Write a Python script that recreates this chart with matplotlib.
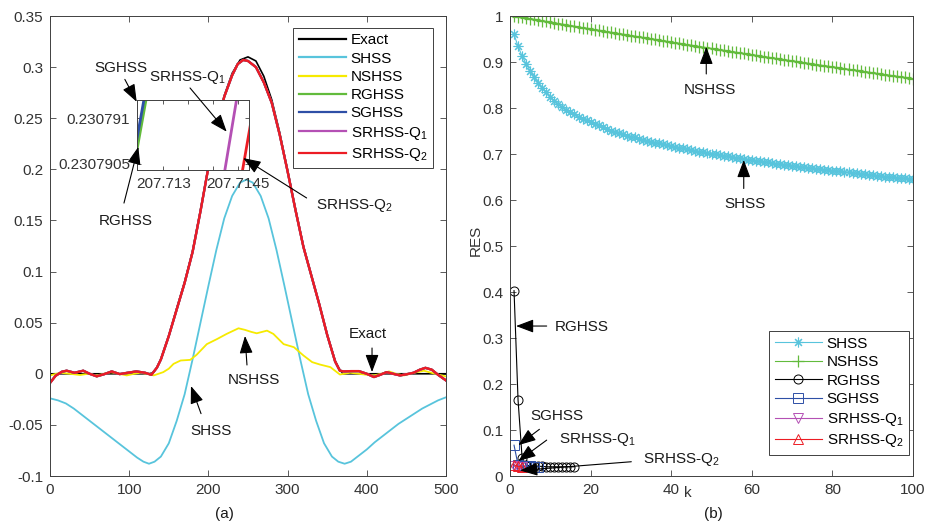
import matplotlib
matplotlib.use('Agg')
import matplotlib.pyplot as plt

plt.rcParams['font.family'] = ['Liberation Sans', 'DejaVu Sans']
plt.rcParams['mathtext.fontset'] = 'custom'
plt.rcParams['mathtext.rm'] = 'Liberation Sans'
plt.rcParams['mathtext.it'] = 'Liberation Sans:italic'

# ---------------- data: panel (a) ----------------
exact_x = [0, 125, 130, 135, 140, 150, 160, 170, 180, 190, 200, 210, 220, 230, 240, 250,
           260, 270, 280, 290, 300, 310, 320, 330, 340, 350, 360, 365, 370, 500]
exact_y = [0, 0, 0.001, 0.006, 0.014, 0.037, 0.064, 0.090, 0.120, 0.160, 0.203, 0.240,
           0.272, 0.294, 0.307, 0.310, 0.306, 0.291, 0.268, 0.236, 0.199, 0.161, 0.125,
           0.096, 0.068, 0.038, 0.013, 0.005, 0.0, 0.0]

shss_x = [0, 10, 20, 30, 40, 50, 60, 70, 80, 90, 100, 110, 118, 125, 132, 140, 150, 160,
          170, 180, 190, 200, 210, 220, 230, 240, 248, 256, 266, 276, 286, 296, 306, 316,
          326, 336, 346, 356, 364, 372, 380, 390, 400, 410, 420, 430, 440, 450, 460, 470,
          480, 490, 500]
shss_y = [-0.024, -0.026, -0.029, -0.034, -0.040, -0.046, -0.052, -0.058, -0.064, -0.070,
          -0.076, -0.082, -0.086, -0.088, -0.086, -0.081, -0.068, -0.046, -0.020, 0.014,
          0.050, 0.086, 0.121, 0.152, 0.174, 0.187, 0.190, 0.187, 0.174, 0.152, 0.121,
          0.086, 0.050, 0.014, -0.020, -0.046, -0.068, -0.081, -0.086, -0.088, -0.086,
          -0.080, -0.074, -0.067, -0.061, -0.055, -0.049, -0.044, -0.039, -0.034, -0.030,
          -0.026, -0.023]

nshss_x = [0, 13, 25, 38, 48, 59, 68, 76, 87, 97, 106, 114, 122, 131, 143, 150, 156, 165,
           177, 185, 198, 211, 223, 238, 246, 254, 261, 268, 274, 282, 295, 308, 320, 331,
           341, 354, 366, 379, 390, 400, 409, 418, 428, 437, 447, 460, 472, 486, 500]
nshss_y = [-0.0016, 0.001, 0.0, -0.0012, 0.0, -0.0016, 0.0, 0.0016, 0.0, -0.0016, 0.0,
           0.001, 0.0, -0.0016, 0.0016, 0.005, 0.0097, 0.013, 0.0136, 0.0185, 0.029, 0.034,
           0.039, 0.0445, 0.043, 0.041, 0.0396, 0.041, 0.0422, 0.039, 0.029, 0.026, 0.0179,
           0.0114, 0.009, 0.0065, -0.0007, 0.001, 0.0, -0.001, -0.0016, 0.0, 0.0023, 0.0,
           -0.0016, 0.001, 0.003, 0.0, -0.0026]

# RGHSS, SGHSS, SRHSS-Q1 and SRHSS-Q2 coincide at this scale
srhss_x = [0, 7, 15, 21, 31, 42, 50, 59, 68, 78, 88, 98, 109, 120, 128, 135, 140, 150, 160,
           170, 180, 190, 200, 210, 220, 230, 237, 244, 250, 260, 270, 280, 290, 300, 310,
           320, 330, 340, 350, 360, 366, 371, 380, 390, 400, 409, 417, 425, 433, 442, 450,
           459, 467, 474, 482, 490, 500]
srhss_y = [-0.009, -0.002, 0.002, 0.003, 0.001, 0.003, 0.0, -0.0025, -0.0005, 0.0023,
           -0.0003, 0.001, 0.0023, 0.001, -0.001, 0.006, 0.014, 0.037, 0.063, 0.089, 0.119,
           0.159, 0.202, 0.239, 0.271, 0.292, 0.303, 0.307, 0.306, 0.300, 0.285, 0.265,
           0.234, 0.198, 0.160, 0.124, 0.096, 0.068, 0.038, 0.012, 0.003, 0.0023, 0.0026,
           0.0026, 0.0, -0.0032, -0.001, 0.0016, 0.0, -0.0016, -0.0005, 0.001, 0.004,
           0.0058, 0.004, -0.001, -0.0065]

# zoomed inset values
in_rg_x = [207.7124, 207.7127]
in_rg_y = [0.23079043, 0.23079134]
in_sg_x = [207.7124, 207.7127]
in_sg_y = [0.23079055, 0.23079147]
in_q1_x = [207.7142, 207.7145]
in_q1_y = [0.23079031, 0.23079130]
in_q2_x = [207.71455, 207.7148]
in_q2_y = [0.23079030, 0.23079109]

# ---------------- data: panel (b) ----------------
k_all = list(range(1, 101))
shss_res = [0.960, 0.934, 0.913, 0.896, 0.881, 0.867, 0.855, 0.844, 0.834, 0.825,
            0.816, 0.809, 0.802, 0.796, 0.791, 0.786, 0.781, 0.777, 0.773, 0.769,
            0.765, 0.762, 0.758, 0.755, 0.751, 0.748, 0.745, 0.743, 0.740, 0.738,
            0.736, 0.733, 0.731, 0.729, 0.727, 0.725, 0.723, 0.721, 0.719, 0.717,
            0.715, 0.714, 0.712, 0.710, 0.709, 0.707, 0.705, 0.704, 0.702, 0.701,
            0.699, 0.698, 0.696, 0.695, 0.694, 0.692, 0.691, 0.689, 0.688, 0.687,
            0.685, 0.684, 0.683, 0.682, 0.680, 0.679, 0.678, 0.677, 0.676, 0.674,
            0.673, 0.672, 0.671, 0.670, 0.669, 0.668, 0.667, 0.666, 0.665, 0.664,
            0.663, 0.662, 0.661, 0.660, 0.659, 0.658, 0.657, 0.656, 0.655, 0.654,
            0.653, 0.652, 0.651, 0.650, 0.649, 0.648, 0.647, 0.647, 0.646, 0.645]
nshss_res = [1.0000, 0.9985, 0.9970, 0.9955, 0.9940, 0.9925, 0.9910, 0.9896, 0.9881, 0.9866,
             0.9851, 0.9836, 0.9822, 0.9807, 0.9793, 0.9778, 0.9763, 0.9749, 0.9734, 0.9719,
             0.9705, 0.9690, 0.9676, 0.9662, 0.9647, 0.9633, 0.9618, 0.9604, 0.9590, 0.9575,
             0.9561, 0.9547, 0.9533, 0.9518, 0.9504, 0.9490, 0.9476, 0.9462, 0.9448, 0.9434,
             0.9420, 0.9406, 0.9392, 0.9378, 0.9364, 0.9350, 0.9336, 0.9322, 0.9309, 0.9295,
             0.9281, 0.9267, 0.9254, 0.9240, 0.9226, 0.9213, 0.9199, 0.9185, 0.9172, 0.9158,
             0.9145, 0.9131, 0.9118, 0.9104, 0.9091, 0.9077, 0.9064, 0.9051, 0.9037, 0.9024,
             0.9011, 0.8998, 0.8984, 0.8971, 0.8958, 0.8945, 0.8932, 0.8919, 0.8906, 0.8894,
             0.8881, 0.8868, 0.8855, 0.8842, 0.8830, 0.8817, 0.8804, 0.8791, 0.8778, 0.8765,
             0.8752, 0.8740, 0.8727, 0.8715, 0.8702, 0.8689, 0.8677, 0.8664, 0.8651, 0.8638]
rg_k = list(range(1, 17))
rg_res = [0.403, 0.165, 0.040, 0.024, 0.022, 0.021, 0.021, 0.021, 0.020, 0.020,
          0.020, 0.020, 0.020, 0.020, 0.020, 0.020]
sg_k = [1, 2, 3, 4, 5, 6, 7]
sg_res = [0.067, 0.024, 0.022, 0.021, 0.021, 0.020, 0.020]
q1_k = [1, 2, 3]
q1_res = [0.021, 0.019, 0.019]
q2_k = [1, 2, 3]
q2_res = [0.024, 0.021, 0.020]

labels = ['Exact', 'SHSS', 'NSHSS', 'RGHSS', 'SGHSS', 'SRHSS-Q$_1$', 'SRHSS-Q$_2$']
left_xticks = [0, 100, 200, 300, 400, 500]
left_yticks = [-0.1, -0.05, 0, 0.05, 0.1, 0.15, 0.2, 0.25, 0.3, 0.35]
left_yticklabels = ['-0.1', '-0.05', '0', '0.05', '0.1', '0.15', '0.2', '0.25', '0.3', '0.35']
right_xticks = [0, 20, 40, 60, 80, 100]
right_yticks = [0, 0.1, 0.2, 0.3, 0.4, 0.5, 0.6, 0.7, 0.8, 0.9, 1]
right_yticklabels = ['0', '0.1', '0.2', '0.3', '0.4', '0.5', '0.6', '0.7', '0.8', '0.9', '1']
inset_xticks = [207.713, 207.7135, 207.714, 207.7145]
inset_xticklabels = ['207.713', '', '', '207.7145']
inset_yticks = [0.2307905, 0.230791]
inset_yticklabels = ['0.2307905', '0.230791']

C_SHSS = '#58C4DC'
C_NS = '#F6EA00'
C_RG = '#62BB3C'
C_SG = '#2E4FA6'
C_Q1 = '#B450B4'
C_Q2 = '#EC1C24'
AXC = '#404040'
FS = 11
TXT = '#1a1a1a'

fig = plt.figure(figsize=(9.25, 5.25), dpi=100)


def style(ax, length=4):
    ax.tick_params(direction='in', top=True, right=True, length=length, width=0.6,
                   color=AXC, labelcolor='#333333', labelsize=FS, pad=5)
    for s in ax.spines.values():
        s.set_color(AXC)
        s.set_linewidth(0.7)


# ---------------- panel (a) ----------------
axL = fig.add_axes([50 / 925, 49 / 525, 396 / 925, 460 / 525])
axL.plot(exact_x, exact_y, color='black', lw=1.2, label=labels[0])
axL.plot(shss_x, shss_y, color=C_SHSS, lw=1.3, label=labels[1])
axL.plot(nshss_x, nshss_y, color=C_NS, lw=1.3, label=labels[2])
axL.plot(srhss_x, srhss_y, color=C_RG, lw=1.6, label=labels[3])
axL.plot(srhss_x, srhss_y, color=C_SG, lw=1.6, label=labels[4])
axL.plot(srhss_x, srhss_y, color=C_Q1, lw=1.6, label=labels[5])
axL.plot(srhss_x, srhss_y, color=C_Q2, lw=1.7, label=labels[6])
axL.set_xlim(0, 500)
axL.set_ylim(-0.1, 0.35)
axL.set_xticks(left_xticks)
axL.set_xticklabels([str(v) for v in left_xticks])
axL.set_yticks(left_yticks)
axL.set_yticklabels(left_yticklabels)
style(axL)
legL = axL.legend(loc='upper right', bbox_to_anchor=(0.967, 0.974), fontsize=FS,
                  handlelength=3.1, handletextpad=0.3, labelspacing=0.28,
                  borderpad=0.35, borderaxespad=0, fancybox=False, framealpha=1,
                  edgecolor=AXC)
legL.get_frame().set_linewidth(0.7)
for line in legL.get_lines():
    line.set_linewidth(1.6)

# inset
axI = fig.add_axes([137 / 925, (525 - 170) / 525, 112 / 925, 70 / 525])
axI.plot(in_rg_x, in_rg_y, color=C_RG, lw=2.0)
axI.plot(in_sg_x, in_sg_y, color=C_SG, lw=2.0)
axI.plot(in_q1_x, in_q1_y, color=C_Q1, lw=2.0)
axI.plot(in_q2_x, in_q2_y, color=C_Q2, lw=2.0)
axI.set_xlim(207.712474, 207.71472)
axI.set_ylim(0.23079043, 0.2307912)
axI.set_xticks(inset_xticks)
axI.set_xticklabels(inset_xticklabels)
axI.set_yticks(inset_yticks)
axI.set_yticklabels(inset_yticklabels)
style(axI, length=3)

# ---------------- panel (b) ----------------
axR = fig.add_axes([510 / 925, 49 / 525, 403 / 925, 460 / 525])
axR.plot(k_all, shss_res, color=C_SHSS, lw=0.8, marker=(8, 2, 0), ms=7, mew=0.8,
         label='SHSS')
axR.plot(k_all, nshss_res, color=C_RG, lw=0.8, marker='+', ms=8, mew=0.9, label='NSHSS')
axR.plot(rg_k, rg_res, color='black', lw=0.8, marker='o', ms=6.5, mew=0.7,
         mfc='none', label='RGHSS')
axR.plot(sg_k, sg_res, color=C_SG, lw=0.8, marker='s', ms=6.5, mew=0.7,
         mfc='none', label='SGHSS')
axR.plot(q1_k, q1_res, color=C_Q1, lw=0.8, marker='v', ms=7, mew=0.7,
         mfc='none', label='SRHSS-Q$_1$')
axR.plot(q2_k, q2_res, color=C_Q2, lw=0.8, marker='^', ms=7, mew=0.7,
         mfc='none', label='SRHSS-Q$_2$')
axR.set_xlim(0, 100)
axR.set_ylim(0, 1)
axR.set_xticks(right_xticks)
axR.set_xticklabels([str(v) for v in right_xticks])
axR.set_yticks(right_yticks)
axR.set_yticklabels(right_yticklabels)
style(axR)
axR.set_xlabel('k', fontsize=FS, color='#333333')
axR.xaxis.set_label_coords(0.44, -0.022)
axR.set_ylabel('RES', fontsize=FS, color='#333333')
axR.yaxis.set_label_coords(-0.068, 0.513)
legR = axR.legend(loc='lower right', bbox_to_anchor=(0.990, 0.046), fontsize=FS,
                  handlelength=3.1, handletextpad=0.3, labelspacing=0.3,
                  borderpad=0.35, borderaxespad=0, fancybox=False, framealpha=1,
                  edgecolor=AXC)
legR.get_frame().set_linewidth(0.7)

# ---------------- annotations (overlay so they sit above the inset) ----------------
ov = fig.add_axes([0, 0, 1, 1])
ov.set_axis_off()
ov.set_zorder(10)
ov.patch.set_alpha(0)


def arrow(ax, tip, start):
    ov.annotate('', xy=tip, xycoords=ax.transData, xytext=start, textcoords=ax.transData,
                arrowprops=dict(arrowstyle='-|>,head_length=0.9,head_width=0.34',
                                color='black', lw=0.8, shrinkA=0, shrinkB=0,
                                mutation_scale=12))


def label(ax, x, y, s, ha='center'):
    ov.text(x, y, s, transform=ax.transData, fontsize=FS, color=TXT, ha=ha, va='center')


label(axL, 89.6, 0.299, 'SGHSS')
arrow(axL, (109.5, 0.266), (94.5, 0.288))
label(axL, 173, 0.290, 'SRHSS-Q$_1$')
arrow(axL, (223.1, 0.2368), (176.8, 0.2796))
label(axL, 96, 0.149, 'RGHSS')
arrow(axL, (111.5, 0.222), (93.4, 0.167))
label(axL, 385, 0.165, 'SRHSS-Q$_2$')
arrow(axL, (244, 0.211), (324, 0.172))
label(axL, 401.5, 0.039, 'Exact')
arrow(axL, (406.6, 0.0017), (406.6, 0.0252))
label(axL, 257.6, -0.006, 'NSHSS')
arrow(axL, (246.2, 0.037), (248.7, 0.0086))
label(axL, 203.3, -0.056, 'SHSS')
arrow(axL, (178, -0.012), (190.7, -0.039))

label(axR, 49.5, 0.839, 'NSHSS')
arrow(axR, (48.7, 0.933), (48.7, 0.874))
label(axR, 58.3, 0.591, 'SHSS')
arrow(axR, (58.0, 0.687), (58.0, 0.625))
label(axR, 11.2, 0.323, 'RGHSS', ha='left')
arrow(axR, (1.5, 0.326), (9.1, 0.326))
label(axR, 11.6, 0.131, 'SGHSS')
arrow(axR, (2.06, 0.067), (7.3, 0.1015))
label(axR, 12.2, 0.080, 'SRHSS-Q$_1$', ha='left')
arrow(axR, (2.06, 0.0326), (9.1, 0.078))
label(axR, 32.9, 0.035, 'SRHSS-Q$_2$', ha='left')
arrow(axR, (2.5, 0.012), (30.1, 0.031))

fig.text(224 / 925, 1 - 514 / 525, '(a)', fontsize=FS, color=TXT, ha='center', va='center')
fig.text(713 / 925, 1 - 514 / 525, '(b)', fontsize=FS, color=TXT, ha='center', va='center')

fig.savefig('out.png', dpi=100)
